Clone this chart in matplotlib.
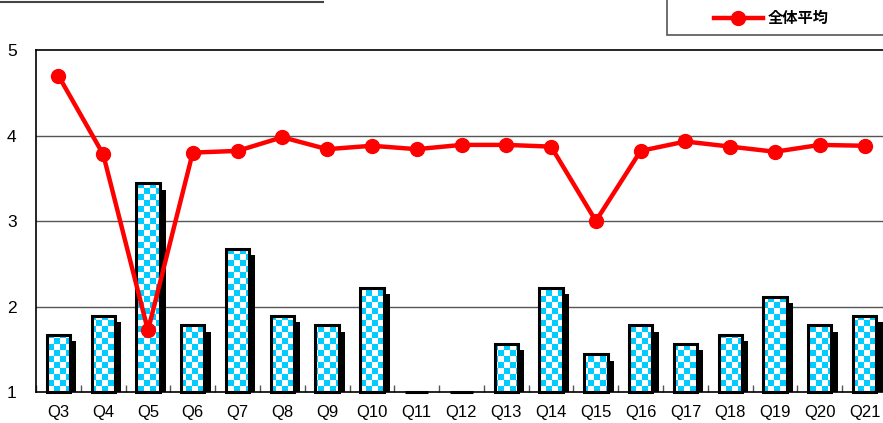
import matplotlib
matplotlib.use("Agg")
import matplotlib.pyplot as plt
import matplotlib.transforms as mtransforms
from matplotlib.patches import Rectangle
from matplotlib.lines import Line2D
import numpy as np

plt.rcParams['font.family'] = ['Liberation Sans', 'Noto Sans CJK JP', 'DejaVu Sans']

categories = ['Q3', 'Q4', 'Q5', 'Q6', 'Q7', 'Q8', 'Q9', 'Q10', 'Q11', 'Q12',
              'Q13', 'Q14', 'Q15', 'Q16', 'Q17', 'Q18', 'Q19', 'Q20', 'Q21']
bar_values = [1.67, 1.89, 3.44, 1.78, 2.67, 1.89, 1.78, 2.22, 1.0, 1.0,
              1.56, 2.22, 1.44, 1.78, 1.56, 1.67, 2.11, 1.78, 1.89]
avg_values = [4.70, 3.78, 1.72, 3.80, 3.82, 3.98, 3.84, 3.88, 3.84, 3.89,
              3.89, 3.87, 3.00, 3.82, 3.93, 3.87, 3.81, 3.89, 3.88]
avg_label = '全体平均'
y_ticks = [1, 2, 3, 4, 5]

W, H = 883, 423
fig = plt.figure(figsize=(W / 100, H / 100), dpi=100)
ax_w, ax_h = 851, 342
ax = fig.add_axes([36 / W, (H - 392) / H, ax_w / W, ax_h / H])

x = np.arange(len(categories))
bottom = 1.0
heights = [v - bottom for v in bar_values]
bw = 0.52
ax.set_xlim(-0.5, len(categories) - 0.5)
ax.set_ylim(1, 5)

# shadow bars, shifted right/down by a few points
shadow_tr = ax.transData + mtransforms.ScaledTranslation(4.5 / 72, -4.5 / 72, fig.dpi_scale_trans)
ax.bar(x, heights, bw, bottom=bottom, color='black', edgecolor='black',
       linewidth=0, transform=shadow_tr, zorder=2)
bars = ax.bar(x, heights, bw, bottom=bottom, color='none', edgecolor='black',
              linewidth=2.2, zorder=3, clip_on=False)

# checkerboard fill (6 px squares) clipped to each bar
cell = 6.0
xe = np.arange(-0.5, len(categories) - 0.5 + 1e-9, cell * len(categories) / ax_w)
ye = np.arange(1, 5 + 1e-9, cell * 4 / ax_h)
checker = np.add.outer(np.arange(len(ye) - 1), np.arange(len(xe) - 1)) % 2
cmap = matplotlib.colors.ListedColormap(['white', '#00CCFF'])
for b in bars:
    mesh = ax.pcolormesh(xe, ye, checker, cmap=cmap, shading='flat', zorder=2.5,
                         antialiased=False)
    mesh.set_clip_path(b)

ax.plot(x, avg_values, color='#FF0000', linewidth=3.2, marker='o',
        markersize=10, zorder=5, label=avg_label)

ax.set_xlim(-0.5, len(categories) - 0.5)
ax.set_ylim(1, 5)
ax.set_yticks(y_ticks)
ax.set_yticklabels([str(t) for t in y_ticks], fontsize=12.5)
ax.tick_params(axis='y', length=0, pad=14)
ax.set_xticks(x)
ax.set_xticklabels(categories, fontsize=12)
ax.tick_params(axis='x', length=0, pad=9)
ax.set_xticks(np.arange(len(categories) + 1) - 0.5, minor=True)
ax.tick_params(axis='x', which='minor', direction='in', length=5, width=1, color='#555555')
for yv in y_ticks[1:-1]:
    ax.axhline(yv, color='#555555', linewidth=1, zorder=1)
for s in ax.spines.values():
    s.set_color('black')
    s.set_linewidth(1.2)

# cropped frames at the top of the picture
fig.add_artist(Line2D([0, 323 / W], [1 - 2 / H, 1 - 2 / H], color='#444444', linewidth=1.5))
fig.add_artist(Rectangle((667 / W, 1 - 35 / H), 0.5, 0.5, transform=fig.transFigure,
                         facecolor='white', edgecolor='#555555', linewidth=1.2))
handles, labels = ax.get_legend_handles_labels()
fig.legend(handles, labels, loc='center left', bbox_to_anchor=(700 / W, 1 - 18 / H),
           frameon=False, handlelength=3.2, handletextpad=0.3,
           prop={'family': ['Noto Sans CJK JP'], 'size': 11, 'weight': 'bold'})

fig.savefig('out.png', dpi=100)
